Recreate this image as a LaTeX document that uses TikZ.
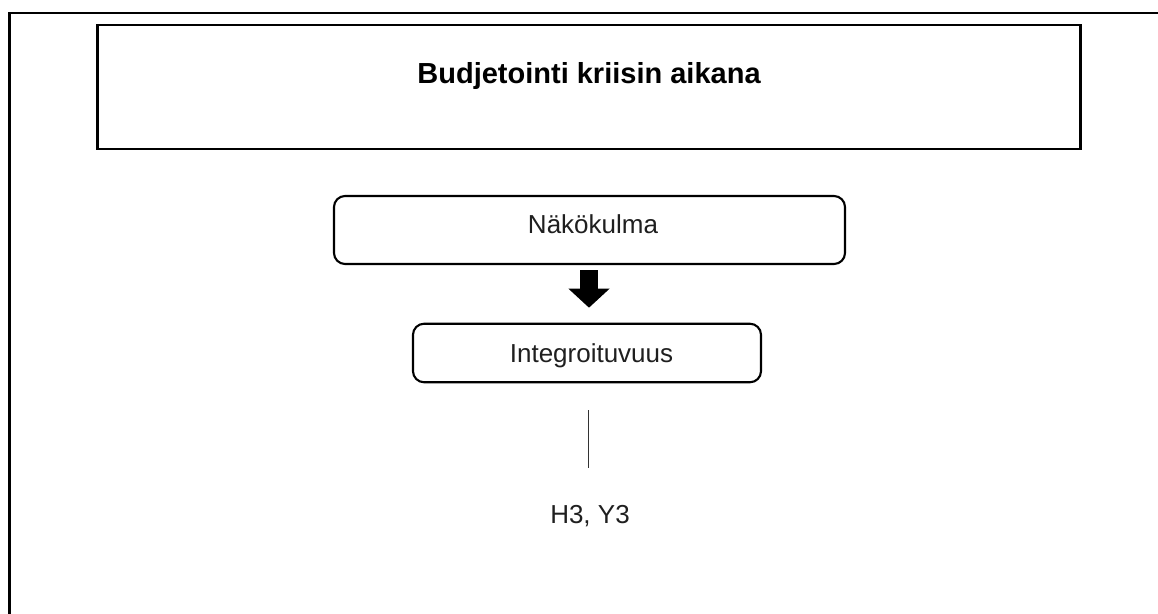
\documentclass[tikz,border=0pt]{standalone}
\usepackage{fontspec}
\setmainfont{Liberation Sans}
\usetikzlibrary{arrows.meta,calc}
\begin{document}
\begin{tikzpicture}[x=1pt,y=-1pt,
  outerframe/.style={draw=black,line width=2.6pt},
  titlebox/.style={draw=black,line width=2.4pt,inner sep=0pt,
    minimum width=983pt,minimum height=123.5pt},
  stepbox/.style={draw=black,line width=2.1pt,rounded corners=11pt,inner sep=0pt},
  titletext/.style={font=\fontsize{29}{33}\selectfont\bfseries,text=black,inner sep=0pt,anchor=base},
  bodytext/.style={font=\fontsize{26}{30}\selectfont,text=black!88,inner sep=0pt,anchor=base},
  blockarrow/.style={draw=black,line width=18pt,
    -{Triangle[width=40pt,length=19pt]}},
  thinline/.style={draw=black!80,line width=1pt}
]
% page area
\useasboundingbox (0,0) rectangle (1158,613);
\clip (0,0) rectangle (1158,613);
\fill[white] (0,0) rectangle (1158,613);

% outer frame, running off the right and bottom of the page
\draw[outerframe] (9.5,640) -- (9.5,13) -- (1180,13);

% heading box
\node[titlebox] (titlebox) at (588.8,87) {};
\node[titletext] (titletxt) at (589,83) {Budjetointi kriisin aikana};

% perspective box
\node[stepbox,minimum width=511pt,minimum height=68pt] (view) at (589.5,230) {};
\node[bodytext] (viewtxt) at (593,233) {Näkökulma};

% integration box
\node[stepbox,minimum width=348pt,minimum height=58.5pt] (integ) at (587,353) {};
\node[bodytext] (integtxt) at (591.5,362) {Integroituvuus};

% block arrow between the two boxes
\coordinate (arrtop) at ($(view.south)+(0,5)$);
\coordinate (arrtip) at ($(integ.north)+(0,-15)$);
\draw[blockarrow] (arrtop -| 589,0) -- (arrtip -| 589,0);

% plain connector down to the reference codes
\coordinate (lntop) at (588,410);
\coordinate (lnbot) at (588,468);
\draw[thinline] (lntop) -- (lnbot);
\node[bodytext] (codes) at (590,523) {H3, Y3};
\end{tikzpicture}
\end{document}
